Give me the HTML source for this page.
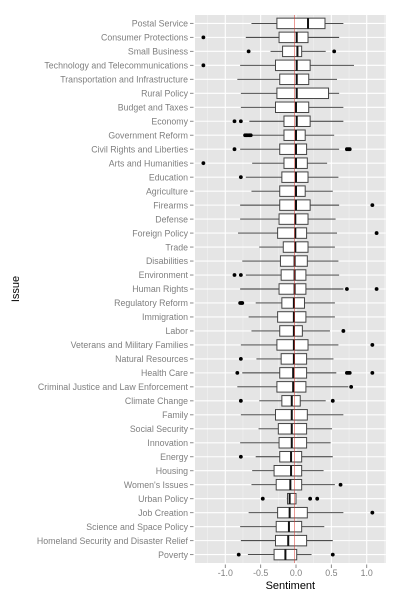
<!DOCTYPE html>
<html><head><meta charset="utf-8"><style>
html,body{margin:0;padding:0;background:#fff;}
svg{display:block;font-family:"Liberation Sans",sans-serif;}
</style></head><body>
<svg id="chart" width="400" height="600" viewBox="0 0 400 600"></svg>
<script>
const categories=["Postal Service","Consumer Protections","Small Business","Technology and Telecommunications","Transportation and Infrastructure","Rural Policy","Budget and Taxes","Economy","Government Reform","Civil Rights and Liberties","Arts and Humanities","Education","Agriculture","Firearms","Defense","Foreign Policy","Trade","Disabilities","Environment","Human Rights","Regulatory Reform","Immigration","Labor","Veterans and Military Families","Natural Resources","Health Care","Criminal Justice and Law Enforcement","Climate Change","Family","Social Security","Innovation","Energy","Housing","Women's Issues","Urban Policy","Job Creation","Science and Space Policy","Homeland Security and Disaster Relief","Poverty"];
const whiskerLow=[-0.63,-0.71,-0.36,-0.79,-0.83,-0.78,-0.78,-0.66,-0.64,-0.79,-0.62,-0.71,-0.63,-0.79,-0.79,-0.82,-0.52,-0.76,-0.71,-0.79,-0.57,-0.67,-0.63,-0.78,-0.56,-0.76,-0.83,-0.52,-0.78,-0.53,-0.79,-0.57,-0.62,-0.63,-0.13,-0.67,-0.79,-0.78,-0.68];
const q1=[-0.27,-0.24,-0.19,-0.29,-0.23,-0.27,-0.29,-0.17,-0.17,-0.23,-0.17,-0.2,-0.23,-0.23,-0.24,-0.26,-0.18,-0.22,-0.21,-0.24,-0.2,-0.26,-0.23,-0.27,-0.21,-0.23,-0.27,-0.2,-0.29,-0.25,-0.24,-0.23,-0.31,-0.28,-0.12,-0.26,-0.28,-0.29,-0.31];
const medians=[0.17,0.01,0.02,0.01,0.01,0.01,0.0,0.01,0.0,0.0,0.0,0.0,0.0,0.0,-0.01,-0.01,-0.01,-0.02,-0.02,-0.02,-0.03,-0.03,-0.03,-0.03,-0.03,-0.04,-0.04,-0.06,-0.06,-0.06,-0.06,-0.07,-0.07,-0.08,-0.09,-0.09,-0.1,-0.11,-0.15];
const q3=[0.41,0.17,0.08,0.2,0.18,0.46,0.18,0.2,0.13,0.15,0.16,0.17,0.13,0.2,0.17,0.15,0.17,0.16,0.14,0.14,0.12,0.14,0.09,0.17,0.15,0.15,0.14,0.06,0.16,0.15,0.15,0.08,0.08,0.08,0.0,0.16,0.08,0.15,0.01];
const whiskerHigh=[0.67,0.61,0.42,0.82,0.58,0.61,0.67,0.67,0.54,0.61,0.44,0.6,0.52,0.61,0.56,0.58,0.55,0.6,0.61,0.67,0.55,0.55,0.48,0.6,0.53,0.57,0.74,0.42,0.67,0.51,0.49,0.52,0.39,0.55,0.0,0.67,0.4,0.52,0.22];
const outliers=[[],[-1.31],[-0.67,0.54],[-1.31],[],[],[],[-0.87,-0.78],[-0.72,-0.7,-0.68,-0.66,-0.64],[-0.87,0.72,0.74,0.76],[-1.31],[-0.78],[],[1.08],[],[1.14],[],[],[-0.87,-0.78],[0.72,1.14],[-0.79,-0.77,-0.76],[],[0.67],[1.08],[-0.78],[-0.83,0.72,0.74,0.76,1.08],[0.78],[-0.78,0.52],[],[],[],[-0.78],[],[0.63],[-0.47,0.2,0.3],[1.08],[],[],[-0.81,0.52]];
const xTicks=[-1.0,-0.5,0.0,0.5,1.0];
const xTickLabels=["-1.0","-0.5","0.0","0.5","1.0"];
const xMinor=[-1.25,-0.75,-0.25,0.25,0.75,1.25];
const refLine=-0.02;

const NS="http://www.w3.org/2000/svg";
const svg=document.getElementById('chart');
const P={l:195,r:385.7,t:15,b:563};
const xMin=-1.4286,xMax=1.2687;
const x=v=>P.l+(v-xMin)/(xMax-xMin)*(P.r-P.l);
const n=categories.length;
const step=(P.b-P.t)/(n-1+1.2);
const y=i=>P.t+(0.6+i)*step;
function mk(tag,attrs,parent){const e=document.createElementNS(NS,tag);for(const k in attrs)e.setAttribute(k,attrs[k]);(parent||svg).appendChild(e);return e;}

const panel=mk('rect',{x:P.l,y:P.t,width:P.r-P.l,height:P.b-P.t,fill:'#e5e5e5'});


xMinor.forEach(v=>{if(x(v)>P.l&&x(v)<P.r){const g=mk('line',{x1:x(v),x2:x(v),y1:P.t,y2:P.b,stroke:'#f2f2f2','stroke-width':0.6});

}});
xTicks.forEach(v=>{const g=mk('line',{x1:x(v),x2:x(v),y1:P.t,y2:P.b,stroke:'#fff','stroke-width':1.1});

});
categories.forEach((c,i)=>{const g=mk('line',{x1:P.l,x2:P.r,y1:y(i),y2:y(i),stroke:'#fff','stroke-width':1.1});

});

const bh=step*0.75;
categories.forEach((c,i)=>{
  const g=mk('g',{});
  
  
  const cy=y(i);
  mk('line',{x1:x(whiskerLow[i]),x2:x(q1[i]),y1:cy,y2:cy,stroke:'#333','stroke-width':0.9},g);
  mk('line',{x1:x(q3[i]),x2:x(whiskerHigh[i]),y1:cy,y2:cy,stroke:'#333','stroke-width':0.9},g);
  mk('rect',{x:x(q1[i]),y:cy-bh/2,width:Math.max(0.5,x(q3[i])-x(q1[i])),height:bh,fill:'#fff',stroke:'#444','stroke-width':1},g);
  mk('line',{x1:x(medians[i]),x2:x(medians[i]),y1:cy-bh/2,y2:cy+bh/2,stroke:'#111','stroke-width':2},g);
  outliers[i].forEach(v=>{const d=mk('circle',{cx:x(v),cy:cy,r:1.9,fill:'#000'},g);
  
  });
  const lbl=mk('text',{x:P.l-7,y:cy+3.2,'text-anchor':'end','font-size':'8.8',fill:'#7f7f7f'});
  lbl.textContent=c;
  
  
  const t=mk('line',{x1:P.l-5,x2:P.l-1.5,y1:cy,y2:cy,stroke:'#7f7f7f','stroke-width':0.9});
  
  
});
const rl=mk('line',{x1:x(refLine),x2:x(refLine),y1:P.t,y2:P.b,stroke:'#d9352c','stroke-width':0.5});



xTicks.forEach((v,i)=>{
  const t=mk('line',{x1:x(v),x2:x(v),y1:P.b+1.5,y2:P.b+5,stroke:'#7f7f7f','stroke-width':0.9});
  
  
  const l=mk('text',{x:x(v),y:P.b+13,'text-anchor':'middle','font-size':'8.8',fill:'#7f7f7f'});
  l.textContent=xTickLabels[i];
  
  
});
const xt=mk('text',{x:(P.l+P.r)/2,y:589,'text-anchor':'middle','font-size':'11',fill:'#000'});
xt.textContent='Sentiment';


const yt=mk('text',{x:0,y:0,'text-anchor':'middle','font-size':'11',fill:'#000',transform:'translate(19,'+((P.t+P.b)/2)+') rotate(-90)'});
yt.textContent='Issue';


</script>
</body></html>
